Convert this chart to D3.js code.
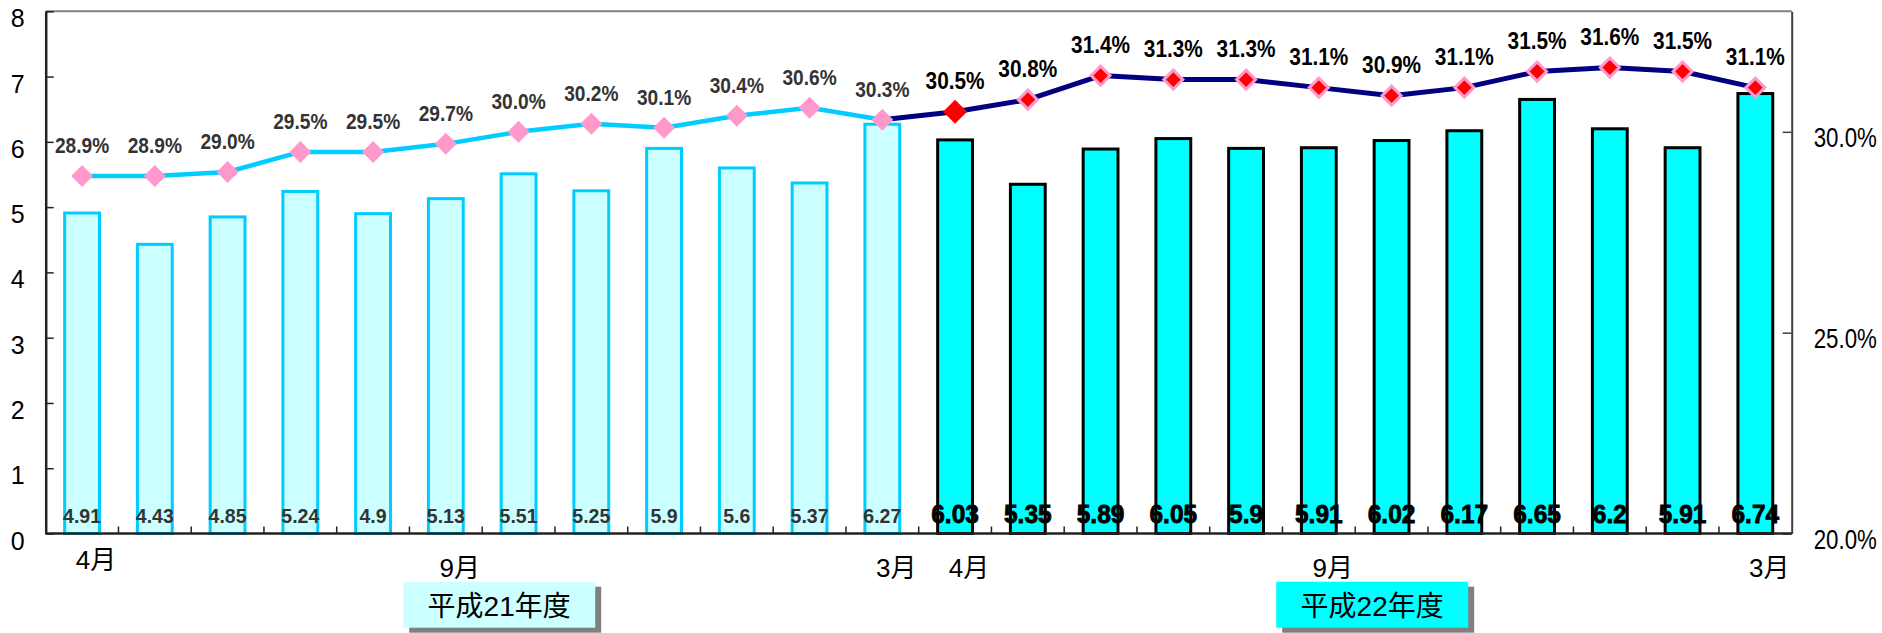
<!DOCTYPE html>
<html lang="ja">
<head>
    <meta charset="UTF-8">
    <title>月別推移 平成21年度・平成22年度</title>
<script src="https://d3js.org/d3.v7.min.js"></script>
    <style>
        body{
            margin: 0;
            background: #fff;
        }
        text{
            font-family: 'Liberation Sans', Arial, sans-serif;
        }
        .cjk{
            font-family: 'Liberation Sans', 'Noto Sans CJK JP', sans-serif;
        }
    </style>
</head>
<body>
<svg width="1882" height="633" id="canvas"></svg>
<script>

    // data: 24 months, H21 April .. H22 March
    const monthLabels = ["4月","","","","","9月","","","","","","3月",
                         "4月","","","","","9月","","","","","","3月"];
    const yearOf = [21,21,21,21,21,21,21,21,21,21,21,21,
                    22,22,22,22,22,22,22,22,22,22,22,22];
    const barValues = [4.91,4.43,4.85,5.24,4.9,5.13,5.51,5.25,5.9,5.6,5.37,6.27,
                       6.03,5.35,5.89,6.05,5.9,5.91,6.02,6.17,6.65,6.2,5.91,6.74];
    const pctValues = [28.9,28.9,29.0,29.5,29.5,29.7,30.0,30.2,30.1,30.4,30.6,30.3,
                       30.5,30.8,31.4,31.3,31.3,31.1,30.9,31.1,31.5,31.6,31.5,31.1];
    const yearNames = {21: "平成21年度", 22: "平成22年度"};
    const leftTicks = [0,1,2,3,4,5,6,7,8];
    const rightTicks = [20,25,30];

    const svg = d3.select("svg");

    const plotLeft = 45.7, plotRight = 1791.7, plotTop = 11.3, plotBottom = 533.5;

    // the original font is a narrow gothic; squeeze text horizontally to get close
    function squeeze(sel, sx) {
        sel.each(function () {
            const t = d3.select(this);
            const tx = +t.attr("x") || 0, ty = +t.attr("y") || 0;
            t.attr("x", null).attr("y", null)
                .attr("transform", `translate(${tx},${ty}) scale(${sx},1)`);
        });
    }

    const idx = d3.range(barValues.length);
    const x = d3.scaleBand().domain(idx).range([plotLeft, plotRight])
        .paddingInner(0.48).paddingOuter(0.24);
    const yL = d3.scaleLinear().domain([0, 8]).range([plotBottom, plotTop]);
    const yR = d3.scaleLinear().domain([20, 33]).range([plotBottom, plotTop]);
    const cx = i => x(i) + x.bandwidth() / 2;

    // frame: top border
    svg.append("line")
        .attr("x1", plotLeft).attr("x2", plotRight)
        .attr("y1", plotTop).attr("y2", plotTop)
        .attr("stroke", "#808080").attr("stroke-width", 2);

    // bars
    const bw = x.bandwidth();
    svg.append("g").selectAll("rect")
        .data(idx)
        .enter()
        .append("rect")
        .attr("x", i => x(i) + 1.5)
        .attr("width", bw - 3)
        .attr("y", i => yL(barValues[i]))
        .attr("height", i => plotBottom - yL(barValues[i]))
        .attr("fill", i => yearOf[i] === 21 ? "#CCFFFF" : "#00FFFF")
        .attr("stroke", i => yearOf[i] === 21 ? "#00CCFF" : "#000000")
        .attr("stroke-width", 3);

    // bar value labels, at the foot of each bar
    const barText = svg.append("g").selectAll("text")
        .data(idx)
        .enter()
        .append("text")
        .attr("x", i => cx(i))
        .attr("y", plotBottom - 11)
        .attr("text-anchor", "middle")
        .attr("font-weight", "bold")
        .attr("font-size", i => yearOf[i] === 21 ? 21 : 25)
        .attr("fill", i => yearOf[i] === 21 ? "#333333" : "#000000")
        .attr("stroke", i => yearOf[i] === 21 ? "none" : "#000000")
        .attr("stroke-width", 0.8)
        .text(i => String(barValues[i]));
    squeeze(barText.filter(i => yearOf[i] === 21), 0.93);
    squeeze(barText.filter(i => yearOf[i] === 22), 0.98);

    // left axis
    const axL = svg.append("g")
        .attr("transform", `translate(${plotLeft},0)`)
        .call(d3.axisLeft(yL).tickValues(leftTicks).tickSize(-8).tickSizeOuter(0).tickPadding(21));
    axL.select(".domain").attr("stroke", "#222").attr("stroke-width", 2.5);
    axL.selectAll(".tick line").attr("stroke", "#222").attr("stroke-width", 1.5);
    axL.selectAll(".tick text").attr("font-size", 25).attr("fill", "#000").attr("dy", "0.62em");

    // right axis
    const axR = svg.append("g")
        .attr("transform", `translate(${plotRight},0)`)
        .call(d3.axisRight(yR).tickValues(rightTicks).tickSize(-9).tickSizeOuter(0).tickPadding(22)
            .tickFormat(d => d.toFixed(1) + "%"));
    axR.select(".domain").attr("stroke", "#404040").attr("stroke-width", 2);
    axR.selectAll(".tick line").attr("stroke", "#404040").attr("stroke-width", 1.5);
    axR.selectAll(".tick text").attr("font-size", 27.5).attr("fill", "#000").attr("dy", "0.55em");
    squeeze(axR.selectAll(".tick text"), 0.81);

    // bottom baseline with small inward ticks between months
    svg.append("line")
        .attr("x1", plotLeft).attr("x2", plotRight)
        .attr("y1", plotBottom).attr("y2", plotBottom)
        .attr("stroke", "#222").attr("stroke-width", 2.7);
    svg.append("g").selectAll("line")
        .data(d3.range(1, idx.length))
        .enter()
        .append("line")
        .attr("x1", k => plotLeft + k * x.step())
        .attr("x2", k => plotLeft + k * x.step())
        .attr("y1", plotBottom).attr("y2", plotBottom - 7)
        .attr("stroke", "#222").attr("stroke-width", 1.5);

    // month labels
    svg.append("g").selectAll("text")
        .data(idx.filter(i => monthLabels[i] !== ""))
        .enter()
        .append("text")
        .attr("class", "cjk")
        .attr("x", i => cx(i) + 14)
        .attr("y", i => i === 0 ? 569 : 577)
        .attr("text-anchor", "middle")
        .attr("font-size", 26)
        .attr("fill", "#000")
        .text(i => monthLabels[i]);

    // lines: H21 light blue, H22 navy (starting from last H21 point)
    const line = d3.line().x(i => cx(i)).y(i => yR(pctValues[i]));
    const h21 = idx.filter(i => yearOf[i] === 21);
    const h22 = [h21[h21.length - 1]].concat(idx.filter(i => yearOf[i] === 22));
    svg.append("path").datum(h21).attr("d", line)
        .attr("fill", "none").attr("stroke", "#00CCFF").attr("stroke-width", 4.5)
        .attr("stroke-linejoin", "round");
    svg.append("path").datum(h22).attr("d", line)
        .attr("fill", "none").attr("stroke", "#000080").attr("stroke-width", 5)
        .attr("stroke-linejoin", "round");

    // diamond markers
    function diamond(r) {
        return `M0,${-r}L${r},0L0,${r}L${-r},0Z`;
    }
    const firstH22 = idx.find(i => yearOf[i] === 22);
    svg.append("g").selectAll("path")
        .data(idx)
        .enter()
        .append("path")
        .attr("transform", i => `translate(${cx(i)},${yR(pctValues[i])})`)
        .attr("d", i => yearOf[i] === 21 ? diamond(11) : (i === firstH22 ? diamond(12) : diamond(9.5)))
        .attr("fill", i => yearOf[i] === 21 ? "#FF99CC" : "#FF0000")
        .attr("stroke", i => (yearOf[i] === 22 && i !== firstH22) ? "#FF99CC" : "none")
        .attr("stroke-width", 3);

    // percentage labels
    const pctText = svg.append("g").selectAll("text")
        .data(idx)
        .enter()
        .append("text")
        .attr("x", i => cx(i))
        .attr("y", i => yR(pctValues[i]) - 23)
        .attr("text-anchor", "middle")
        .attr("font-weight", "bold")
        .attr("font-size", i => yearOf[i] === 21 ? 22.5 : 24.5)
        .attr("fill", i => yearOf[i] === 21 ? "#333333" : "#000000")
        .text(i => pctValues[i].toFixed(1) + "%");
    squeeze(pctText, 0.85);

    // fiscal year boxes with drop shadow
    const years = [21, 22];
    const boxW = 192, boxH = 46, boxY = 581.7;
    years.forEach(function (yr) {
        const members = idx.filter(i => yearOf[i] === yr);
        const mid = (cx(members[0]) + cx(members[members.length - 1])) / 2 + 17;
        const g = svg.append("g");
        g.append("rect")
            .attr("x", mid - boxW / 2 + 6).attr("y", boxY + 5)
            .attr("width", boxW).attr("height", boxH)
            .attr("fill", "#808080");
        g.append("rect")
            .attr("x", mid - boxW / 2).attr("y", boxY)
            .attr("width", boxW).attr("height", boxH)
            .attr("fill", yr === 21 ? "#CCFFFF" : "#00FFFF");
        g.append("text")
            .attr("class", "cjk")
            .attr("x", mid).attr("y", boxY + 34)
            .attr("text-anchor", "middle")
            .attr("font-size", 28)
            .attr("fill", "#000")
            .text(yearNames[yr]);
    });

</script>
</body>
</html>
